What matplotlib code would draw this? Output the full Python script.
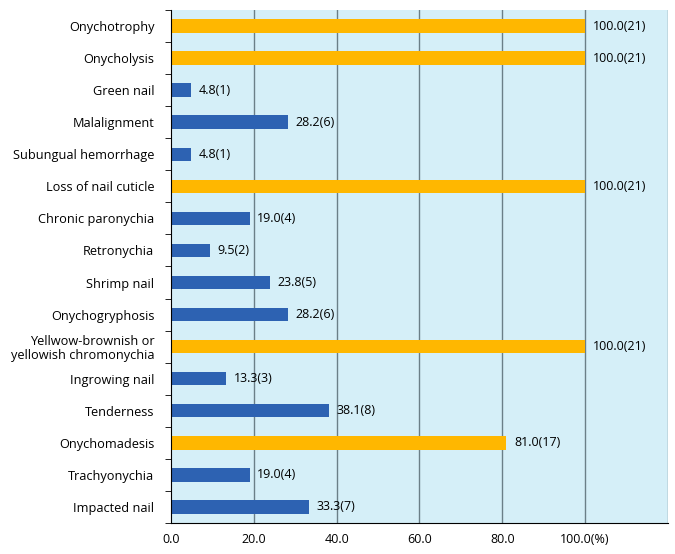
import matplotlib
matplotlib.use("Agg")
import matplotlib.pyplot as plt
import numpy as np

categories = ["Onychotrophy", "Onycholysis", "Green nail", "Malalignment",
              "Subungual hemorrhage", "Loss of nail cuticle", "Chronic paronychia",
              "Retronychia", "Shrimp nail", "Onychogryphosis",
              "Yellwow-brownish or\nyellowish chromonychia", "Ingrowing nail",
              "Tenderness", "Onychomadesis", "Trachyonychia", "Impacted nail"]
values = [100.0, 100.0, 4.8, 28.2, 4.8, 100.0, 19.0, 9.5, 23.8, 28.2,
          100.0, 13.3, 38.1, 81.0, 19.0, 33.3]
counts = [21, 21, 1, 6, 1, 21, 4, 2, 5, 6, 21, 3, 8, 17, 4, 7]
xtick_vals = [0, 20, 40, 60, 80, 100]
xtick_labels = ["0.0", "20.0", "40.0", "60.0", "80.0", "100.0(%)"]

plt.rcParams['font.family'] = ['Open Sans', 'DejaVu Sans']

fig = plt.figure(figsize=(6.75, 5.54), dpi=100)
ax = fig.add_axes([0.2533, 0.056, 0.7363, 0.926])
ax.set_facecolor("#D5EFF8")

n = len(categories)
y = np.arange(n)
colors = ["#FFB700" if v >= 80 else "#2D62B2" for v in values]
ax.barh(y, values, height=0.42, color=colors, zorder=3)
for yi, v, c in zip(y, values, counts):
    ax.text(v + 1.8, yi, f"{v:.1f}({c})", va="center", ha="left", fontsize=9, zorder=4)

ax.set_xlim(0, 120)
ax.set_ylim(n - 0.5, -0.5)
ax.set_xticks(xtick_vals)
ax.set_xticklabels(xtick_labels, fontsize=9)
ax.set_yticks(y)
ax.set_yticklabels(categories, fontsize=9.2, linespacing=1.1)
ax.set_yticks(np.arange(-0.5, n, 1), minor=True)
ax.tick_params(axis="y", which="major", length=0, pad=12)
ax.tick_params(axis="y", which="minor", length=4, direction="out")
ax.tick_params(axis="x", length=0, pad=7)

for gx in [20, 40, 60, 80, 100, 120]:
    ax.axvline(gx, color="#6B7F88", lw=1.0, zorder=2)

for s in ["top", "right"]:
    ax.spines[s].set_visible(False)
ax.spines["left"].set_color("black")
ax.spines["bottom"].set_color("black")
ax.spines["left"].set_zorder(5)

fig.savefig("out.png", dpi=100, facecolor="white")
